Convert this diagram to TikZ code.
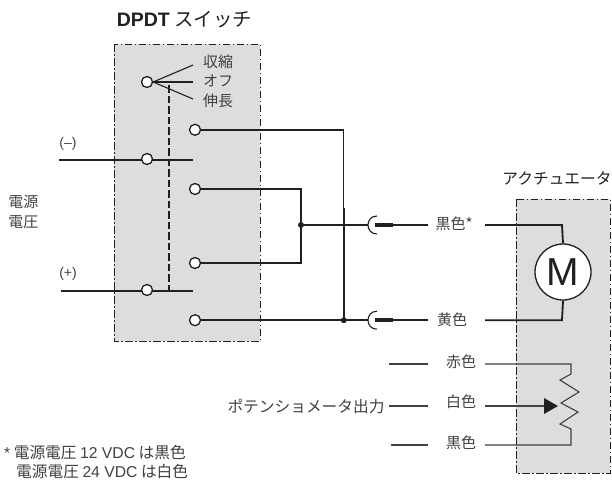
\documentclass[tikz,border=0pt]{standalone}
\usepackage{fontspec}
\setmainfont{Noto Sans CJK JP}
\newfontfamily\lat{Liberation Sans}
\definecolor{boxfill}{RGB}{220,221,223}
\definecolor{ink}{RGB}{35,31,32}
\definecolor{txt}{RGB}{65,64,66}
\tikzset{
 x=1pt,y=-1pt,
 housing/.style={draw=ink,fill=boxfill,line width=1pt,dash pattern=on 7.5pt off 2.5pt on 1.5pt off 2.5pt},
 wire/.style={draw=ink,line width=1.85pt},
 thinwire/.style={draw=ink,line width=1.1pt},
 potwire/.style={draw=txt,line width=1.1pt},
 term/.style={circle,draw=ink,fill=white,line width=1.3pt,minimum size=11pt,inner sep=0pt},
 junction/.style={circle,fill=ink,minimum size=6pt,inner sep=0pt},
 lbl/.style={text=txt,font=\fontsize{15}{20}\selectfont,inner sep=0pt},
 plug/.style={draw=ink,line width=4.5pt},
}
\begin{document}
\begin{tikzpicture}
\useasboundingbox (0,0) rectangle (612,482);
\path[housing] (114,44) rectangle (260,341);
\path[housing] (516,199) rectangle (610,473);
\node[text=ink,font=\fontsize{19.5}{22}\selectfont,inner sep=0pt] (t1) at (184.5,20) {{\lat\bfseries DPDT} スイッチ};
\node[text=ink,font=\fontsize{15.7}{18}\selectfont,inner sep=0pt] (t2) at (557,178) {アクチュエータ};
% switch
\coordinate (f1) at (193,65);\coordinate (f2) at (193,82);\coordinate (f3) at (193,99);
\coordinate (la) at (59,159.7);\coordinate (lb) at (193,159.7);
\coordinate (lc) at (61,291);\coordinate (ld) at (193,291);
\coordinate (g1) at (169,85);\coordinate (g2) at (169,291);
\draw[thinwire,dash pattern=on 7.5pt off 3pt] (g1) -- (g2);
\draw[wire] (la) -- (lb);
\draw[wire] (lc) -- (ld);
\node[term] (c0) at (147,82) {};
\node[term] (c1) at (195,129.8) {};
\node[term] (c2) at (147,159) {};
\node[term] (c3) at (195,189) {};
\node[term] (c4) at (195,263) {};
\node[term] (c5) at (147,290) {};
\node[term] (c6) at (195,320.2) {};
\draw[thinwire] (c0.east) -- (f1);
\draw[wire] (c0.east) -- (f2);
\draw[thinwire] (c0.east) -- (f3);
\node[lbl] (s1) at (218,62) {収縮};
\node[lbl] (s2) at (218,81) {オフ};
\node[lbl] (s3) at (218,101) {伸長};
\node[lbl,font=\lat\fontsize{14}{16}\selectfont] (m) at (68,144) {(–)};
\node[lbl,font=\lat\fontsize{14}{16}\selectfont] (p) at (68,274) {(+)};
\node[lbl,align=center] (v) at (23.5,212) {電源\\電圧};
% wiring
\coordinate (j0) at (301,225);
\coordinate (j1) at (343.8,320.2);
\coordinate (j2) at (343.8,208);
\coordinate (k1) at (368,225);
\coordinate (k2) at (368,320.2);
\draw[thinwire,line width=0.8pt] (343.8,129.8) -- (j2);
\draw[wire] (c1.east) -- (343.8,129.8);
\draw[wire] (j2) -- (j1);
\draw[wire] (c3.east) -- (301,189) -- (301,263) -- (c4.east);
\draw[wire] (j0) -- (k1);
\draw[wire] (c6.east) -- (j1) -- (k2);
\node[junction] (jd0) at (j0) {};
\node[junction] (jd1) at (j1) {};
% plugs
\foreach \y/\n in {225/a,320.2/b}{
 \draw[thinwire] (377,\y-9) .. controls (365,\y-9) and (365,\y+9) .. (377,\y+9);
 \draw[plug] (375,\y) -- (393,\y);
 \draw[wire] (393,\y) -- (428,\y);
}
\node[lbl] (bk) at (454,224) {黒色*};
\node[lbl] (ye) at (452,320) {黄色};
\node[circle,draw=ink,fill=white,line width=1.3pt,minimum size=56pt,inner sep=0pt,font=\lat\fontsize{39}{40}\selectfont,text=ink] (M) at (563,272) {M};
\coordinate (ma) at (485,225);\coordinate (mb) at (485,320.2);
\draw[wire] (ma) -- (562,225) -- (M.north);
\draw[wire] (mb) -- (562,320.2) -- (M.south);
% potentiometer
\coordinate (r0) at (389,364);\coordinate (r1) at (428,364);
\coordinate (w0) at (389,406);\coordinate (w1) at (428,406);
\coordinate (b0) at (391,445);\coordinate (b1) at (428,445);
\draw[potwire] (r0) -- (r1);
\draw[potwire] (w0) -- (w1);
\draw[potwire] (b0) -- (b1);
\node[lbl] (re) at (461,362) {赤色};
\node[lbl] (wh) at (461,402) {白色};
\node[lbl] (bl) at (461,443) {黒色};
\node[lbl,font=\fontsize{15.7}{18}\selectfont] (po) at (306,406) {ポテンショメータ出力};
\draw[potwire,line join=miter] (485,364) -- (571,364) -- (571,374) -- (560,380) -- (579,392) -- (561,403) -- (578,412) -- (560,424) -- (571,429) -- (571,445) -- (485,445);
\draw[potwire] (485,406) -- (545,406);
\fill[ink] (544,398) -- (558,406) -- (544,414) -- cycle;
% note
\node[lbl,anchor=north west,align=left,font=\fontsize{15.7}{19.5}\selectfont] (n) at (4,445) {{\lat *} 電源電圧 {\lat 12 VDC} は黒色\\\hspace*{12pt}電源電圧 {\lat 24 VDC} は白色};
\end{tikzpicture}
\end{document}
